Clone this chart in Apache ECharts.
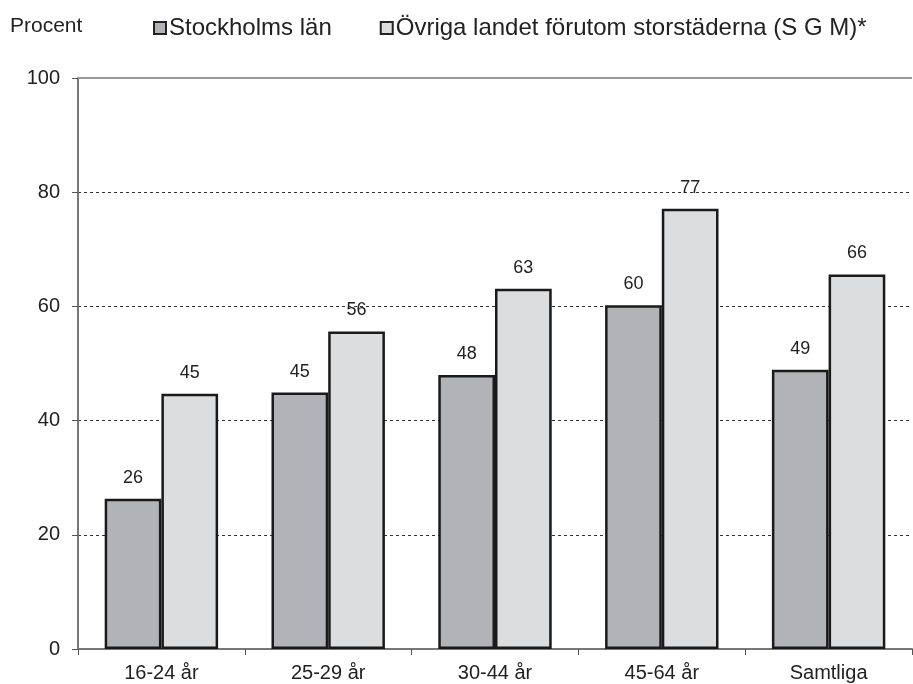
<!DOCTYPE html>
<html><head><meta charset="utf-8">
<script src="https://cdn.jsdelivr.net/npm/echarts@6/dist/echarts.min.js"></script>
<style>html,body{margin:0;padding:0;background:#fff}#c{width:913px;height:684px}</style>
</head><body><div id="c"></div>
<script>
const categories = ['16-24 år', '25-29 år', '30-44 år', '45-64 år', 'Samtliga'];
const stockholm = [26.3, 44.9, 48.0, 60.2, 48.9];
const ovriga = [44.7, 55.6, 63.1, 77.1, 65.6];
const seriesNames = ['Stockholms län', 'Övriga landet förutom storstäderna (S G M)*'];
const yTicks = [0, 20, 40, 60, 80, 100];

const font = '"Liberation Sans", Arial, sans-serif';
const chart = echarts.init(document.getElementById('c'));
const lbl = {show: true, position: 'top', distance: 12, color: '#222', fontSize: 18, fontFamily: font,
  formatter: p => Math.round(p.value)};
chart.setOption({
  animation: false,
  grid: {left: 78, right: 1, top: 78, bottom: 35, containLabel: false},
  graphic: [{type: 'text', left: 10, top: 16, style: {text: 'Procent', fontSize: 21, fontFamily: font, fill: '#222'}}],
  legend: {left: 148, top: 11, itemGap: 48, itemWidth: 12, itemHeight: 12, icon: 'rect',
    textStyle: {fontSize: 24, fontFamily: font, color: '#222', padding: [0, 0, 0, -2]},
    data: seriesNames.map(n => ({name: n, itemStyle: {borderColor: '#222', borderWidth: 2}}))},
  xAxis: {type: 'category', data: categories,
    axisLine: {lineStyle: {color: '#777', width: 2}},
    axisTick: {show: true, length: 6, lineStyle: {color: '#555'}},
    axisLabel: {fontSize: 20, fontFamily: font, color: '#222', margin: 14}},
  yAxis: {type: 'value', min: 0, max: 100, interval: 20,
    axisLine: {show: true, lineStyle: {color: '#777', width: 2}},
    axisTick: {show: true, length: 6, lineStyle: {color: '#555'}},
    axisLabel: {fontSize: 20, fontFamily: font, color: '#222', margin: 18,
      formatter: v => yTicks.includes(v) ? String(v) : ''},
    splitLine: {show: true, lineStyle: {color: '#333', type: [3, 3], width: 1}}},
  series: [
    {name: seriesNames[0], type: 'bar', data: stockholm, barGap: '0%', barCategoryGap: '32%',
      itemStyle: {color: '#b2b3b7', borderColor: '#1a1a1a', borderWidth: 2.5}, label: lbl},
    {name: seriesNames[1], type: 'bar', data: ovriga,
      itemStyle: {color: '#dcdddf', borderColor: '#1a1a1a', borderWidth: 2.5}, label: lbl,
      markLine: {silent: true, symbol: 'none', label: {show: false},
        lineStyle: {color: '#999', type: 'solid', width: 2}, data: [{yAxis: 100}]}}
  ]
});
</script></body></html>
